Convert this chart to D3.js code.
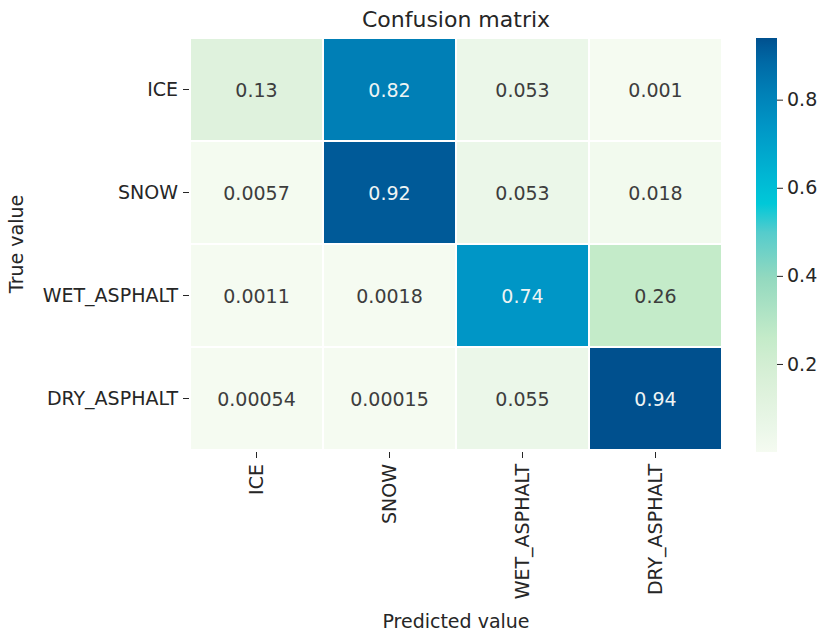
<!DOCTYPE html>
<html>
<head>
<meta charset="utf-8">
<script src="https://cdn.jsdelivr.net/npm/d3@7"></script>
<style>
  body { margin: 0; background: #fff; }
  text { font-family: "DejaVu Sans", sans-serif; }
</style>
</head>
<body>
<svg id="chart" width="822" height="633"></svg>
<script>
// confusion matrix heatmap

const classes = ['ICE', 'SNOW', 'WET_ASPHALT', 'DRY_ASPHALT'];
const rowsTrue = classes;
const colsPred = classes;

// row = true value, column = predicted value
const values = [
  [0.13, 0.82, 0.053, 0.001],
  [0.0057, 0.92, 0.053, 0.018],
  [0.0011, 0.0018, 0.74, 0.26],
  [0.00054, 0.00015, 0.055, 0.94]
];
const labels = [
  ['0.13', '0.82', '0.053', '0.001'],
  ['0.0057', '0.92', '0.053', '0.018'],
  ['0.0011', '0.0018', '0.74', '0.26'],
  ['0.00054', '0.00015', '0.055', '0.94']
];
const cbarTicks = [0.2, 0.4, 0.6, 0.8];

// colormap: fraction of [min,max] -> colour
const cmapPos = [0, 0.056, 0.138, 0.21, 0.276, 0.42, 0.53, 0.6, 0.66, 0.787, 0.872, 0.94, 0.979, 1];
const cmapCol = ['#f5fbf1', '#ebf7e9', '#dff2dd', '#d3eed3', '#c4ebc9', '#93d9bf', '#55cccc',
                 '#00c8d8', '#00b8d4', '#0096c6', '#007fb6', '#006aa6', '#005a98', '#00508e'];

const svg = d3.select('#chart');

const x = d3.scaleBand().domain(colsPred).range([190, 722]);
const y = d3.scaleBand().domain(rowsTrue).range([38, 450]);

const flat = values.flat();
const vmin = d3.min(flat), vmax = d3.max(flat);
const frac = d3.scaleLinear().domain([vmin, vmax]).range([0, 1]);
const cmap = d3.scaleLinear().domain(cmapPos).range(cmapCol).clamp(true);
const color = v => cmap(frac(v));

const cells = [];
values.forEach((row, i) => row.forEach((v, j) => {
  cells.push({ r: rowsTrue[i], c: colsPred[j], v, label: labels[i][j] });
}));

const g = svg.append('g');
g.selectAll('rect')
  .data(cells)
  .join('rect')
    .attr('x', d => x(d.c))
    .attr('y', d => y(d.r))
    .attr('width', x.bandwidth())
    .attr('height', y.bandwidth())
    .attr('fill', d => color(d.v))
    .attr('stroke', '#fff')
    .attr('stroke-width', 2);

g.selectAll('text.ann')
  .data(cells)
  .join('text')
    .attr('class', 'ann')
    .attr('x', d => x(d.c) + x.bandwidth() / 2)
    .attr('y', d => y(d.r) + y.bandwidth() / 2)
    .attr('text-anchor', 'middle')
    .attr('dominant-baseline', 'central')
    .attr('font-size', 19)
    .attr('fill', d => d.v > 0.5 ? '#eef4f4' : '#3d3d3d')
    .text(d => d.label);

// axes
const yAxis = svg.append('g')
  .attr('transform', 'translate(189,0)')
  .call(d3.axisLeft(y).tickSize(6).tickPadding(5));
yAxis.select('.domain').remove();
yAxis.selectAll('text').attr('font-size', 19).attr('fill', '#262626');
yAxis.selectAll('line').attr('stroke', '#262626');

const xAxis = svg.append('g')
  .attr('transform', 'translate(0,452)')
  .call(d3.axisBottom(x).tickSize(6).tickPadding(5));
xAxis.select('.domain').remove();
xAxis.selectAll('line').attr('stroke', '#262626');
xAxis.selectAll('text')
  .attr('font-size', 19)
  .attr('fill', '#262626')
  .attr('transform', 'rotate(-90)')
  .attr('text-anchor', 'end')
  .attr('dy', '0.35em')
  .attr('x', -12)
  .attr('y', 0);

svg.append('text')
  .attr('x', 456).attr('y', 628)
  .attr('text-anchor', 'middle')
  .attr('font-size', 19).attr('fill', '#262626')
  .text('Predicted value');

svg.append('text')
  .attr('transform', 'translate(23,244) rotate(-90)')
  .attr('text-anchor', 'middle')
  .attr('font-size', 19).attr('fill', '#262626')
  .text('True value');

svg.append('text')
  .attr('x', 456).attr('y', 27)
  .attr('text-anchor', 'middle')
  .attr('font-size', 22).attr('fill', '#262626')
  .text('Confusion matrix');

// colorbar
const cbY = d3.scaleLinear().domain([vmin, vmax]).range([452, 38]);
const defs = svg.append('defs');
const grad = defs.append('linearGradient').attr('id', 'cbar')
  .attr('x1', 0).attr('y1', 1).attr('x2', 0).attr('y2', 0);
cmapPos.forEach((p, i) => {
  grad.append('stop')
    .attr('offset', `${p * 100}%`)
    .attr('stop-color', cmapCol[i]);
});
svg.append('rect')
  .attr('x', 756).attr('y', 38)
  .attr('width', 21).attr('height', 414)
  .attr('fill', 'url(#cbar)');

const cAxis = svg.append('g')
  .attr('transform', 'translate(777,0)')
  .call(d3.axisRight(cbY).tickValues(cbarTicks).tickSize(6).tickPadding(4).tickFormat(d3.format('.1f')));
cAxis.select('.domain').remove();
cAxis.selectAll('line').attr('stroke', '#262626');
cAxis.selectAll('text').attr('font-size', 19).attr('fill', '#262626');
</script>
</body>
</html>
